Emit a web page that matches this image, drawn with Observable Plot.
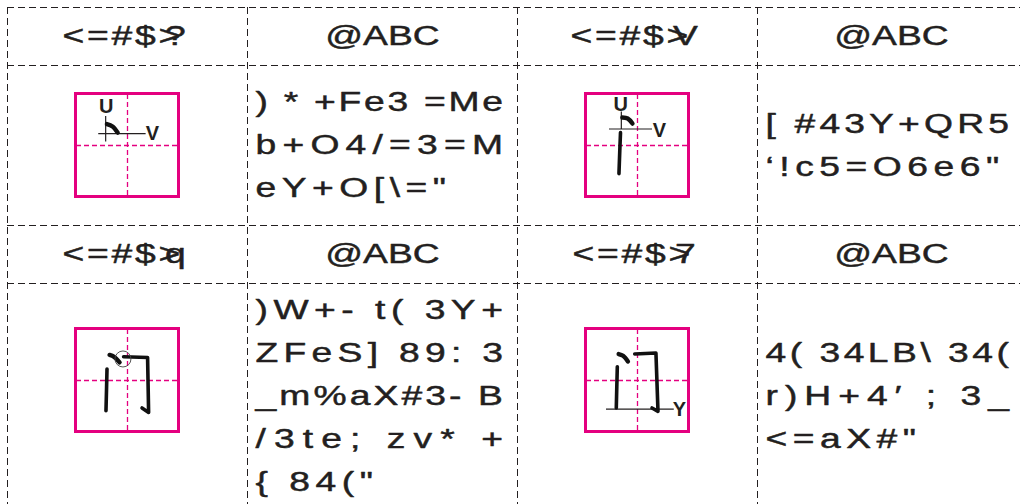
<!DOCTYPE html>
<html><head><meta charset="utf-8">
<script src="https://cdn.jsdelivr.net/npm/d3@7"></script>
<script src="https://cdn.jsdelivr.net/npm/@observablehq/plot@0.6"></script>
<style>
html,body{margin:0;padding:0;background:#fff;}
#chart{width:1020px;height:504px;overflow:hidden;}
</style></head><body><div id="chart"></div>
<script>
// ---------------- DATA ----------------
const strokeHeaders = ["<=#$>", "<=#$>", "<=#$>", "<=#$>"];
const headerOverlays = ["?", "V", "q", "7"];
const descriptionHeader = "@ABC";
const descriptions = [
  [") * +Fe3 =Me", "b+O4/=3=M", "eY+O[\\=\""],
  ["[ #43Y+QR5", "‘!c5=O6e6\""],
  [")W+- t( 3Y+", "ZFeS] 89: 3", "_m%aX#3- B", "/3te; zv* +", "{ 84(\""],
  ["4( 34LB\\ 34(", "r)H+4′ ; 3_", "<=aX#\""]
];
// strokes of 门 in each practice box, box units 0–100
const dotStrokes = [
  [[30, 29.2], [35.5, 31.5], [40.5, 37.5]],
  [[35.3, 22.8], [40.5, 23.8], [45.1, 28.7]],
  [[32.6, 25.2], [37, 27], [42.3, 32.4]],
  [[31.7, 24.3], [36, 26], [40.7, 31.5]]
];
const lineStrokes = [
  [],
  [[[33.5, 37.5], [32.8, 55], [32, 77.3]]],
  [[[30.1, 38.8], [29.6, 60], [29.1, 79.3]], [[46.2, 26.9], [69.5, 27.6], [70.5, 81], [64.1, 76.7]]],
  [[[30.4, 36.6], [29.9, 56], [29.4, 76.7]], [[47.3, 24.3], [67.9, 23.3], [69.9, 80], [64.1, 76.7]]]
];
const guideLines = [
  [[28.8, 21.3, 28.8, 46], [21.6, 38.5, 67.6, 38.5]],
  [[34.3, 17, 34.3, 34], [22.3, 34, 64.1, 34]],
  [],
  [[19.4, 77.7, 85.2, 77.7]]
];
const guideLabels = [
  [["U", 29.4, 12.4], ["V", 74.2, 38.5]],
  [["U", 33.7, 9.8], ["V", 71.3, 36]],
  [],
  [["Y", 90.7, 78.6]]
];
const focusCircles = [[], [], [[45.6, 29.1]], []];

// ---------------- LAYOUT ----------------
const W = 1020, H = 504;
const colEdges = [7, 247, 517, 757, 1025];
const rowEdges = [7, 65, 225, 283, 509];
const boxCenterY = [145, 380];
const boxSize = 103;
const lineGap = 43;
const INK = "#231f20", MAG = "#e4007f";
const S = 1.38; // horizontal stretch of the printed type

const colCenter = c => (colEdges[c] + colEdges[c + 1]) / 2;
const rowCenter = r => (rowEdges[r] + rowEdges[r + 1]) / 2;

const headerRows = [], titleRows = [];
strokeHeaders.forEach((h, i) => {
  const r = Math.floor(i / 2) * 2, c = (i % 2) * 2;
  headerRows.push({x: colCenter(c), y: rowCenter(r), t: h + headerOverlays[i], n: h.length});
  titleRows.push({x: colCenter(c + 1), y: rowCenter(r), t: descriptionHeader});
});

const justRows = [], natRows = [];
descriptions.forEach((lines, i) => {
  const r = Math.floor(i / 2) * 2 + 1, c = (i % 2) * 2 + 1;
  const left = colEdges[c] + 8, right = (c === 1 ? colEdges[c + 1] - 9 : 1014);
  const n = lines.length;
  lines.forEach((t, k) => {
    const row = {x: left, y: rowCenter(r) + (k - (n - 1) / 2) * lineGap, t, width: right - left};
    (k < n - 1 ? justRows : natRows).push(row);
  });
});

const boxes = [], crosses = [], dotRows = [], strokeRows = [], guideRows = [], labelRows = [], circleRows = [];
for (let i = 0; i < 4; i++) {
  const cx = colCenter((i % 2) * 2), cy = boxCenterY[Math.floor(i / 2)];
  const x0 = cx - boxSize / 2, y0 = cy - boxSize / 2, k = boxSize / 100;
  const px = u => x0 + u * k, py = v => y0 + v * k;
  boxes.push({x1: x0, x2: x0 + boxSize, y1: y0, y2: y0 + boxSize});
  crosses.push({x1: cx, y1: y0, x2: cx, y2: y0 + boxSize});
  crosses.push({x1: x0, y1: cy, x2: x0 + boxSize, y2: cy});
  dotStrokes[i].forEach(([u, v]) => dotRows.push({id: "d" + i, x: px(u), y: py(v)}));
  lineStrokes[i].forEach((s, j) => s.forEach(([u, v]) => strokeRows.push({id: i + "-" + j, x: px(u), y: py(v)})));
  guideLines[i].forEach(([a, b, c2, d]) => guideRows.push({x1: px(a), y1: py(b), x2: px(c2), y2: py(d)}));
  guideLabels[i].forEach(([t, u, v]) => labelRows.push({t, x: px(u), y: py(v)}));
  focusCircles[i].forEach(([u, v]) => circleRows.push({x: px(u), y: py(v)}));
}

const font = "'Liberation Sans', Arial, Helvetica, sans-serif";
const dash = "7,4";
const typeStyle = {fontSize: 27, fill: INK, stroke: INK, strokeWidth: 0.45};

const plot = Plot.plot({
  width: W, height: H, margin: 0,
  x: {domain: [0, W], range: [0, W], axis: null},
  y: {domain: [0, H], range: [0, H], axis: null},
  style: {background: "#fff", fontFamily: font},
  marks: [
    Plot.ruleX(colEdges.slice(0, 4), {y1: rowEdges[0], y2: H, stroke: INK, strokeWidth: 1, strokeDasharray: dash}),
    Plot.ruleY(rowEdges.slice(0, 4), {x1: colEdges[0], x2: W, stroke: INK, strokeWidth: 1, strokeDasharray: dash}),
    Plot.text(headerRows, {x: "x", y: "y", text: "t", dx: -2, ...typeStyle, ariaDescription: "hdr"}),
    Plot.text(titleRows, {x: "x", y: "y", text: "t", ...typeStyle, ariaDescription: "hs"}),
    Plot.text(justRows, {x: "x", y: "y", text: "t", textAnchor: "start", ...typeStyle, ariaDescription: "just"}),
    Plot.text(natRows, {x: "x", y: "y", text: "t", textAnchor: "start", ...typeStyle, ariaDescription: "nat"}),
    Plot.rect(boxes, {x1: "x1", x2: "x2", y1: "y1", y2: "y2", fill: "none", stroke: MAG, strokeWidth: 3}),
    Plot.link(crosses, {x1: "x1", y1: "y1", x2: "x2", y2: "y2", stroke: MAG, strokeWidth: 1.3, strokeDasharray: "5,3"}),
    Plot.link(guideRows, {x1: "x1", y1: "y1", x2: "x2", y2: "y2", stroke: INK, strokeWidth: 1.2}),
    Plot.line(strokeRows, {x: "x", y: "y", z: "id", stroke: "#111", strokeWidth: 3.6, strokeLinecap: "round", strokeLinejoin: "round"}),
    Plot.line(dotRows, {x: "x", y: "y", z: "id", stroke: "#111", strokeWidth: 4.4, strokeLinecap: "round", curve: "catmull-rom"}),
    Plot.dot(circleRows, {x: "x", y: "y", r: 8, fill: "none", stroke: "#444", strokeWidth: 0.9}),
    Plot.text(labelRows, {x: "x", y: "y", text: "t", fontSize: 20, fontWeight: "bold", fill: INK})
  ]
});
document.getElementById("chart").append(plot);

// stretch printed type horizontally; justify full paragraph lines; overprint last header glyph
const stretch = t => t.setAttribute("transform", (t.getAttribute("transform") || "") + ` scale(${S},1)`);
plot.querySelectorAll('g[aria-description="hdr"]').forEach(g => g.style.letterSpacing = "2px");
plot.querySelectorAll('g[aria-description="nat"], g[aria-description="just"]').forEach(g => g.style.letterSpacing = "4px");
plot.querySelectorAll('g[aria-description="hdr"] text').forEach(t => {
  stretch(t);
  const n = headerRows[t.__data__].n;
  t.setAttribute("dx", Array.from({length: n}, () => 0).concat([-13]).join(" "));
});
plot.querySelectorAll('g[aria-description="hs"] text, g[aria-description="nat"] text').forEach(stretch);
plot.querySelectorAll('g[aria-description="just"] text').forEach(t => {
  const row = justRows[t.__data__];
  stretch(t);
  t.setAttribute("textLength", (row.width / S).toFixed(1));
  t.setAttribute("lengthAdjust", "spacing");
});
</script></body></html>
